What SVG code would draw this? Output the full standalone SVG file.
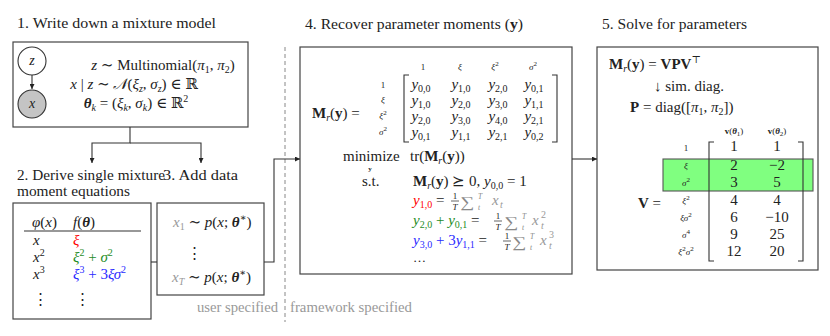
<svg xmlns="http://www.w3.org/2000/svg" width="830" height="336" viewBox="0 0 830 336">
<style>
text{font-family:"Liberation Serif","DejaVu Serif",serif;font-size:15px;fill:#222}
.i{font-style:italic}
.b{font-weight:bold}
.bi{font-weight:bold;font-style:italic}
.sm{font-size:10px}
.lb{font-size:9px}
.tn{font-size:7px}
.ys{font-size:7px;font-weight:bold}
.lim{font-size:7.5px;font-style:italic;fill:#888}
.g{fill:#999}
.sg{fill:#888}
.r{fill:#f00}
.gr{fill:#1e8c1e}
.bl{fill:#2a2aff}
.c{text-anchor:middle}
.box{fill:#fff;stroke:#444;stroke-width:1.2}
.ln{fill:none;stroke:#333;stroke-width:1.1}
.fb{stroke:#222;stroke-width:0.7}
</style>
<defs>
<marker id="ah" markerUnits="userSpaceOnUse" markerWidth="6" markerHeight="5" refX="5" refY="2.5" orient="auto">
<path d="M0,0 L5,2.5 L0,5 z" fill="#222"/>
</marker>
</defs>
<rect width="830" height="336" fill="#fff"/>

<!-- titles -->
<g id="titles">
<text x="17" y="28" textLength="199" lengthAdjust="spacingAndGlyphs">1. Write down a mixture model</text>
<text x="17" y="180" textLength="148" lengthAdjust="spacingAndGlyphs">2. Derive single mixture</text>
<text x="17" y="196" textLength="113" lengthAdjust="spacingAndGlyphs">moment equations</text>
<text x="163" y="180" textLength="75" lengthAdjust="spacingAndGlyphs">3. Add data</text>
<text x="305" y="29" textLength="218" lengthAdjust="spacingAndGlyphs">4. Recover parameter moments (<tspan class="b">y</tspan>)</text>
<text x="602" y="29" textLength="145" lengthAdjust="spacingAndGlyphs">5. Solve for parameters</text>
<text x="197" y="312" class="g" textLength="81" lengthAdjust="spacingAndGlyphs">user specified</text>
<text x="290" y="312" class="g" textLength="122" lengthAdjust="spacingAndGlyphs">framework specified</text>
<line x1="285" y1="47" x2="285" y2="322" stroke="#888" stroke-width="1" stroke-dasharray="4,3"/>
</g>

<!-- box 1 -->
<g id="box1">
<rect class="box" x="13" y="42" width="235" height="85"/>
<text x="163" y="70" class="c"><tspan class="i">z</tspan> ∼ Multinomial(<tspan class="i">π</tspan><tspan class="sm" dy="3">1</tspan><tspan dy="-3">, </tspan><tspan class="i">π</tspan><tspan class="sm" dy="3">2</tspan><tspan dy="-3">)</tspan></text>
<text x="134" y="89" class="c"><tspan class="i">x</tspan> | <tspan class="i">z</tspan> ∼ <tspan class="i">𝒩</tspan>(<tspan class="i">ξ</tspan><tspan class="sm i" dy="3">z</tspan><tspan dy="-3">, </tspan><tspan class="i">σ</tspan><tspan class="sm i" dy="3">z</tspan><tspan dy="-3">) ∈ ℝ</tspan></text>
<text x="136" y="108" class="c"><tspan class="bi">θ</tspan><tspan class="sm i" dy="3">k</tspan><tspan dy="-3"> = (</tspan><tspan class="i">ξ</tspan><tspan class="sm i" dy="3">k</tspan><tspan dy="-3">, </tspan><tspan class="i">σ</tspan><tspan class="sm i" dy="3">k</tspan><tspan dy="-3">) ∈ ℝ</tspan><tspan class="sm" dy="-6">2</tspan></text>
</g>
<g id="node-z">
<circle cx="32" cy="61" r="14" fill="#fff" stroke="#333" stroke-width="1.1"/>
<text x="32" y="65" class="i c" style="font-size:14px">z</text>
</g>
<g id="node-x">
<circle cx="32" cy="104" r="14" fill="#c4c4c4" stroke="#333" stroke-width="1.1"/>
<text x="32" y="108" class="i c" style="font-size:14px">x</text>
</g>

<!-- box 2 -->
<g id="box2">
<rect class="box" x="13" y="203" width="138" height="116"/>
<text x="32" y="227"><tspan class="i">φ</tspan>(<tspan class="i">x</tspan>)</text>
<text x="73" y="227"><tspan class="i">f</tspan>(<tspan class="bi">θ</tspan>)</text>
<line x1="24" y1="231" x2="141" y2="231" stroke="#333" stroke-width="1.1"/>
<text x="33" y="245" class="i">x</text>
<text x="73" y="245" class="i r">ξ</text>
<text x="33" y="262"><tspan class="i">x</tspan><tspan class="sm" dy="-6">2</tspan></text>
<text x="73" y="262" class="gr"><tspan class="i">ξ</tspan><tspan class="sm" dy="-6">2</tspan><tspan dy="6"> + </tspan><tspan class="i">σ</tspan><tspan class="sm" dy="-6">2</tspan></text>
<text x="33" y="279"><tspan class="i">x</tspan><tspan class="sm" dy="-6">3</tspan></text>
<text x="73" y="279" class="bl"><tspan class="i">ξ</tspan><tspan class="sm" dy="-6">3</tspan><tspan dy="6"> + 3</tspan><tspan class="i">ξσ</tspan><tspan class="sm" dy="-6">2</tspan></text>
<text x="33" y="304">⋮</text>
<text x="75" y="304">⋮</text>
</g>

<!-- box 3 -->
<g id="box3">
<rect class="box" x="157" y="203" width="107" height="92"/>
<text x="173" y="227"><tspan class="i g">x</tspan><tspan class="sm g" dy="3">1</tspan><tspan dy="-3"> ∼ </tspan><tspan class="i">p</tspan>(<tspan class="i">x</tspan>; <tspan class="bi">θ</tspan><tspan class="sm" dy="-6">∗</tspan><tspan dy="6">)</tspan></text>
<text x="187" y="258">⋮</text>
<text x="172" y="282"><tspan class="i g">x</tspan><tspan class="sm i g" dy="3">T</tspan><tspan dy="-3"> ∼ </tspan><tspan class="i">p</tspan>(<tspan class="i">x</tspan>; <tspan class="bi">θ</tspan><tspan class="sm" dy="-6">∗</tspan><tspan dy="6">)</tspan></text>
</g>

<!-- box 4 -->
<g id="box4">
<rect class="box" x="300" y="47" width="272" height="227"/>
<text x="312" y="118"><tspan class="b">M</tspan><tspan class="sm i" dy="3">r</tspan><tspan dy="-3">(</tspan><tspan class="b">y</tspan>) =</text>
<text x="423" y="70" class="lb c">1</text>
<text x="460" y="70" class="lb c i">ξ</text>
<text x="495" y="70" class="lb c"><tspan class="i">ξ</tspan><tspan class="tn" dy="-4">2</tspan></text>
<text x="533" y="70" class="lb c"><tspan class="i">σ</tspan><tspan class="tn" dy="-4">2</tspan></text>
<text x="383" y="88" class="lb c">1</text>
<text x="383" y="103" class="lb c i">ξ</text>
<text x="383" y="119" class="lb c"><tspan class="i">ξ</tspan><tspan class="tn" dy="-4">2</tspan></text>
<text x="383" y="135" class="lb c"><tspan class="i">σ</tspan><tspan class="tn" dy="-4">2</tspan></text>
<path class="ln" d="M409,75 H404 V142 H409 M552,75 H557 V142 H552"/>
<text x="421" y="89" class="c"><tspan class="i">y</tspan><tspan class="sm" dy="3">0,0</tspan></text>
<text x="461" y="89" class="c"><tspan class="i">y</tspan><tspan class="sm" dy="3">1,0</tspan></text>
<text x="498" y="89" class="c"><tspan class="i">y</tspan><tspan class="sm" dy="3">2,0</tspan></text>
<text x="534" y="89" class="c"><tspan class="i">y</tspan><tspan class="sm" dy="3">0,1</tspan></text>
<text x="421" y="105" class="c"><tspan class="i">y</tspan><tspan class="sm" dy="3">1,0</tspan></text>
<text x="461" y="105" class="c"><tspan class="i">y</tspan><tspan class="sm" dy="3">2,0</tspan></text>
<text x="498" y="105" class="c"><tspan class="i">y</tspan><tspan class="sm" dy="3">3,0</tspan></text>
<text x="534" y="105" class="c"><tspan class="i">y</tspan><tspan class="sm" dy="3">1,1</tspan></text>
<text x="421" y="121" class="c"><tspan class="i">y</tspan><tspan class="sm" dy="3">2,0</tspan></text>
<text x="461" y="121" class="c"><tspan class="i">y</tspan><tspan class="sm" dy="3">3,0</tspan></text>
<text x="498" y="121" class="c"><tspan class="i">y</tspan><tspan class="sm" dy="3">4,0</tspan></text>
<text x="534" y="121" class="c"><tspan class="i">y</tspan><tspan class="sm" dy="3">2,1</tspan></text>
<text x="421" y="137" class="c"><tspan class="i">y</tspan><tspan class="sm" dy="3">0,1</tspan></text>
<text x="461" y="137" class="c"><tspan class="i">y</tspan><tspan class="sm" dy="3">1,1</tspan></text>
<text x="498" y="137" class="c"><tspan class="i">y</tspan><tspan class="sm" dy="3">2,1</tspan></text>
<text x="534" y="137" class="c"><tspan class="i">y</tspan><tspan class="sm" dy="3">0,2</tspan></text>
<text x="343" y="161">minimize</text>
<text x="370" y="171" class="ys c">y</text>
<text x="410" y="161">tr(<tspan class="b">M</tspan><tspan class="sm i" dy="3">r</tspan><tspan dy="-3">(</tspan><tspan class="b">y</tspan>))</text>
<text x="362" y="186">s.t.</text>
<text x="413" y="186"><tspan class="b">M</tspan><tspan class="sm i" dy="3">r</tspan><tspan dy="-3">(</tspan><tspan class="b">y</tspan>) ⪰ 0,  <tspan class="i">y</tspan><tspan class="sm" dy="3">0,0</tspan><tspan dy="-3"> = 1</tspan></text>
<!-- row 1 -->
<text x="413" y="205"><tspan class="i r">y</tspan><tspan class="sm r" dy="3">1,0</tspan><tspan dy="-3"> =</tspan></text>
<text x="455" y="199" class="lb c">1</text>
<line class="fb" x1="451" y1="201" x2="459" y2="201"/>
<text x="455" y="210" class="lb c i">T</text>
<text x="460" y="207" class="sg" textLength="14" lengthAdjust="spacingAndGlyphs">∑</text>
<text x="478" y="199" class="lim">T</text>
<text x="478" y="210" class="lim">t</text>
<text x="492" y="205" class="i g">x</text>
<text x="500" y="208" class="sm i g">t</text>
<!-- row 2 -->
<text x="413" y="225" class="gr"><tspan class="i">y</tspan><tspan class="sm" dy="3">2,0</tspan><tspan dy="-3"> + </tspan><tspan class="i">y</tspan><tspan class="sm" dy="3">0,1</tspan><tspan dy="-3" style="fill:#222"> =</tspan></text>
<text x="498" y="219" class="lb c">1</text>
<line class="fb" x1="494" y1="221" x2="502" y2="221"/>
<text x="498" y="230" class="lb c i">T</text>
<text x="504" y="227" class="sg" textLength="14" lengthAdjust="spacingAndGlyphs">∑</text>
<text x="522" y="219" class="lim">T</text>
<text x="522" y="230" class="lim">t</text>
<text x="532" y="225" class="i g">x</text>
<text x="541" y="218" class="sm g">2</text>
<text x="541" y="229" class="sm i g">t</text>
<!-- row 3 -->
<text x="413" y="245" class="bl"><tspan class="i">y</tspan><tspan class="sm" dy="3">3,0</tspan><tspan dy="-3"> + 3</tspan><tspan class="i">y</tspan><tspan class="sm" dy="3">1,1</tspan><tspan dy="-3" style="fill:#222"> =</tspan></text>
<text x="507" y="239" class="lb c">1</text>
<line class="fb" x1="503" y1="241" x2="511" y2="241"/>
<text x="507" y="250" class="lb c i">T</text>
<text x="512" y="247" class="sg" textLength="14" lengthAdjust="spacingAndGlyphs">∑</text>
<text x="530" y="239" class="lim">T</text>
<text x="530" y="250" class="lim">t</text>
<text x="540" y="245" class="i g">x</text>
<text x="549" y="238" class="sm g">3</text>
<text x="549" y="249" class="sm i g">t</text>
<text x="413" y="262" style="font-size:13px">…</text>
</g>

<!-- box 5 -->
<g id="box5">
<rect class="box" x="597" y="47" width="221" height="223"/>
<text x="609" y="69"><tspan class="b">M</tspan><tspan class="sm i" dy="3">r</tspan><tspan dy="-3">(</tspan><tspan class="b">y</tspan>) = <tspan class="b">VPV</tspan><tspan class="sm" dy="-6">⊤</tspan></text>
<text x="654" y="91">↓ sim. diag.</text>
<text x="630" y="112"><tspan class="b">P</tspan> = diag([<tspan class="i">π</tspan><tspan class="sm" dy="3">1</tspan><tspan dy="-3">, </tspan><tspan class="i">π</tspan><tspan class="sm" dy="3">2</tspan><tspan dy="-3">])</tspan></text>
<text x="734" y="134" class="lb c"><tspan class="b">v</tspan>(<tspan class="bi">θ</tspan><tspan class="tn" dy="2">1</tspan><tspan dy="-2">)</tspan></text>
<text x="777" y="134" class="lb c"><tspan class="b">v</tspan>(<tspan class="bi">θ</tspan><tspan class="tn" dy="2">2</tspan><tspan dy="-2">)</tspan></text>
<rect x="663" y="159" width="150" height="32" fill="#80ff80" stroke="#555" stroke-width="1.1"/>
<path class="ln" d="M714,142 H709 V261 H714 M798,142 H803 V261 H798"/>
<text x="638" y="208"><tspan class="b">V</tspan> =</text>
<text x="686" y="151" class="lb c">1</text>
<text x="686" y="169" class="lb c i">ξ</text>
<text x="686" y="186" class="lb c"><tspan class="i">σ</tspan><tspan class="tn" dy="-4">2</tspan></text>
<text x="686" y="204" class="lb c"><tspan class="i">ξ</tspan><tspan class="tn" dy="-4">2</tspan></text>
<text x="686" y="221" class="lb c"><tspan class="i">ξσ</tspan><tspan class="tn" dy="-4">2</tspan></text>
<text x="686" y="238" class="lb c"><tspan class="i">σ</tspan><tspan class="tn" dy="-4">4</tspan></text>
<text x="686" y="255" class="lb c"><tspan class="i">ξ</tspan><tspan class="tn" dy="-4">2</tspan><tspan dy="4" class="i">σ</tspan><tspan class="tn" dy="-4">2</tspan></text>
<text x="734" y="151" class="c">1</text>
<text x="777" y="151" class="c">1</text>
<text x="734" y="170" class="c">2</text>
<text x="777" y="170" class="c">−2</text>
<text x="734" y="187" class="c">3</text>
<text x="777" y="187" class="c">5</text>
<text x="734" y="205" class="c">4</text>
<text x="777" y="205" class="c">4</text>
<text x="734" y="222" class="c">6</text>
<text x="777" y="222" class="c">−10</text>
<text x="734" y="239" class="c">9</text>
<text x="777" y="239" class="c">25</text>
<text x="734" y="256" class="c">12</text>
<text x="777" y="256" class="c">20</text>
</g>

<!-- connectors -->
<g id="connectors">
<path class="ln" d="M32,75 V89" marker-end="url(#ah)"/>
<path class="ln" d="M130,127 V143 H92 V163" marker-end="url(#ah)"/>
<path class="ln" d="M130,143 H201 V163" marker-end="url(#ah)"/>
<path class="ln" d="M151,262 H157"/>
<path class="ln" d="M264,262 H274 V159 H300" marker-end="url(#ah)"/>
<path class="ln" d="M572,159 H597" marker-end="url(#ah)"/>
</g>
</svg>
